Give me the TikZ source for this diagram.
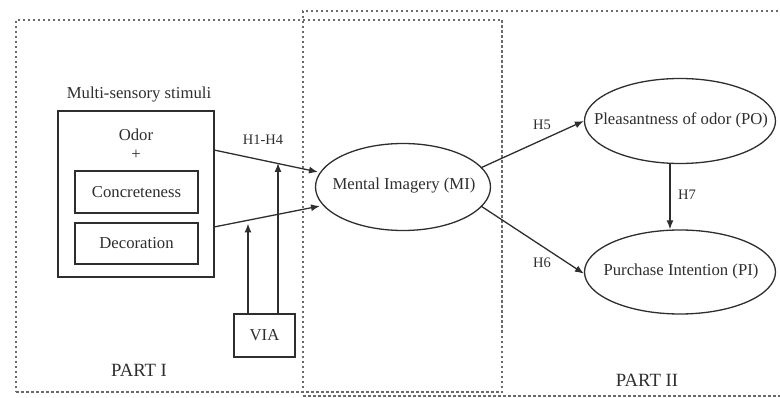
\documentclass[tikz,border=0pt]{standalone}
\usepackage{fontspec}
\setmainfont{Liberation Serif}
\usetikzlibrary{arrows.meta,shapes.geometric}
\definecolor{ink}{HTML}{2E2E2E}
\definecolor{dashc}{HTML}{6A6A6A}
\tikzset{
  partbox/.style={draw=dashc, line width=1.3pt, dash pattern=on 2.5pt off 2.5pt},
  sqbox/.style={draw=ink, line width=1.3pt, minimum width=#1, inner sep=0pt},
  oval/.style={draw=ink, line width=1.3pt, ellipse, inner sep=0pt},
  txt/.style={text=ink, font=\fontsize{16.7}{19}\selectfont, inner sep=0pt},
  hlab/.style={text=ink, font=\fontsize{14.5}{17}\selectfont, inner sep=0pt},
  plab/.style={text=ink, font=\fontsize{18.7}{22}\selectfont, inner sep=0pt},
  arr/.style={draw=ink, line width=1.3pt, -{Latex[length=9pt,width=7pt]}},
}
\begin{document}
\begin{tikzpicture}[x=1pt,y=-1pt]
\useasboundingbox (0,0) rectangle (780,398);
% part boxes
\node[partbox, minimum width=486pt, minimum height=372pt, inner sep=0pt] (p1) at (259,206) {};
\node[partbox, minimum width=490pt, minimum height=385pt, inner sep=0pt] (p2) at (548,203.5) {};
% stimuli
\node[txt] (mss) at (139,95) {Multi-sensory stimuli};
\node[sqbox, minimum width=156pt, minimum height=166pt] (stim) at (136,194) {};
\node[txt] (odor) at (136,135) {Odor};
\node[txt] (plus) at (136,155) {+};
\node[sqbox, minimum width=123pt, minimum height=42pt, txt] (conc) at (136.5,192) {Concreteness};
\node[sqbox, minimum width=123pt, minimum height=41pt, txt] (deco) at (136.5,243.5) {Decoration};
\node[sqbox, minimum width=61pt, minimum height=43pt, txt] (via) at (264.5,335.5) {VIA};
% ovals
\node[oval, minimum width=175pt, minimum height=87pt] (mi) at (403,187) {};
\node[txt] (mit) at (404,186) {Mental Imagery (MI)};
\node[oval, minimum width=191pt, minimum height=85pt] (po) at (680,121) {};
\node[txt] (pot) at (681,120) {Pleasantness of odor (PO)};
\node[oval, minimum width=191pt, minimum height=84pt] (pi) at (680,272) {};
\node[txt] (pit) at (681,271) {Purchase Intention (PI)};
% coordinates
\coordinate (s1) at (214,150);
\coordinate (e1) at (318,172);
\coordinate (s2) at (214,227);
\coordinate (e2) at (320,206);
\coordinate (v1t) at (248,223.5);
\coordinate (v2t) at (278,163);
% arrows
\draw[arr] (s1) -- (e1);
\draw[arr] (s2) -- (e2);
\draw[arr] (via.north -| v1t) -- (v1t);
\draw[arr] (via.north -| v2t) -- (v2t);
\draw[arr] (mi.14) -- (po.west);
\draw[arr] (mi.-14) -- (pi.181);
\draw[arr] (po.south -| 670,0) -- (pi.north -| 670,0);
% labels
\node[hlab] (h14) at (263,140) {H1-H4};
\node[hlab] (h5) at (542,125) {H5};
\node[hlab] (h6) at (542,263) {H6};
\node[hlab] (h7) at (687,195) {H7};
\node[plab] (part1) at (139,370) {PART I};
\node[plab] (part2) at (647,380) {PART II};
\end{tikzpicture}
\end{document}
